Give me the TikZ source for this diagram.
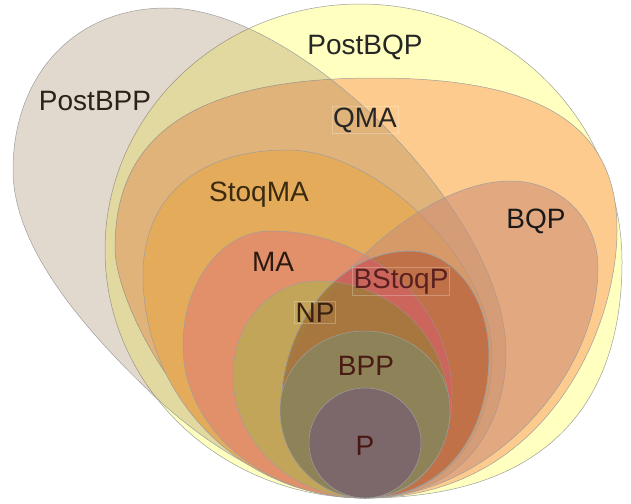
\documentclass[tikz,border=0pt]{standalone}
\usepackage{fontspec}
\setmainfont{Liberation Sans}
\definecolor{edgegray}{RGB}{158,158,158}
\definecolor{cPostBQP}{RGB}{255,255,192}
\definecolor{cQMA}{RGB}{253,203,141}
\definecolor{cPostBPP}{RGB}{148,115,74}
\definecolor{cStoqMA}{RGB}{228,171,90}
\definecolor{cMA}{RGB}{226,144,106}
\definecolor{cNP}{RGB}{194,165,88}
\definecolor{cBQP}{RGB}{201,137,119}
\definecolor{cBStoqP}{RGB}{174,74,39}
\definecolor{cRedTint}{RGB}{215,100,110}
\definecolor{cBrownTint}{RGB}{150,128,57}
\definecolor{cBPP}{RGB}{142,130,89}
\definecolor{cP}{RGB}{124,104,107}
\newcommand\shapeMA{(365,498) .. controls (264.5,498) and (183,429.5) .. (183,345)
  .. controls (183,282.1) and (222,231) .. (270,231)
  .. controls (370.5,231) and (452,304.5) .. (452,395)
  .. controls (452,456.8) and (417.2,498) .. (365,498) -- cycle}
\newcommand\shapeNP{(365,498) .. controls (292.1,498) and (233,442.9) .. (233,375)
  .. controls (233,323.1) and (271.1,281) .. (318,281)
  .. controls (389.8,281) and (448,336.6) .. (448,405)
  .. controls (448,460.8) and (414.8,498) .. (365,498) -- cycle}
\newcommand\shapeBStoqP{(365,498) .. controls (318.6,498) and (281,458.6) .. (281,410)
  .. controls (281,322.5) and (339,251) .. (410,251)
  .. controls (453.6,251) and (489,297.6) .. (489,355)
  .. controls (489,433.7) and (445.6,498) .. (365,498) -- cycle}
\begin{document}
\begin{tikzpicture}[x=1pt,y=-1pt,line width=0.5pt,
  region/.style={draw=edgegray},
  lab/.style={anchor=base,font=\fontsize{28}{30}\selectfont,inner sep=1pt},
  labbox/.style={draw=white,draw opacity=0.25,line width=0.5pt}]
\useasboundingbox (0,0) rectangle (631,503);
% PostBQP
\path[region,fill=cPostBQP] (365,498) .. controls (221.5,498) and (105,386.9) .. (105,250)
  .. controls (105,114.2) and (219.2,4) .. (360,4)
  .. controls (504.6,4) and (622,119.6) .. (622,262)
  .. controls (622,400) and (550,498) .. (365,498) -- cycle;
% QMA
\path[region,fill=cQMA] (365,498) .. controls (212,498) and (115,310.5) .. (115,248)
  .. controls (115,132.4) and (198.2,78) .. (375,78)
  .. controls (541,78) and (617,125) .. (617,230)
  .. controls (617,330) and (545,498) .. (365,498) -- cycle;
% PostBPP
\path[region,fill=cPostBPP,fill opacity=0.27] (365,498) .. controls (285,498) and (203,443) .. (150,392)
  .. controls (80,325) and (13,245) .. (13,170)
  .. controls (13,80) and (70,8) .. (167,8)
  .. controls (300,8) and (506,215) .. (506,352)
  .. controls (506,430) and (460,498) .. (365,498) -- cycle;
% StoqMA
\path[region,fill=cStoqMA] (365,498) .. controls (242.5,498) and (143,398.1) .. (143,275)
  .. controls (143,197.5) and (197.7,150) .. (287,150)
  .. controls (379.3,150) and (492,262.8) .. (492,355)
  .. controls (492,433.7) and (447.6,498) .. (365,498) -- cycle;
% MA
\path[region,fill=cMA] \shapeMA;
% NP
\path[region,fill=cNP] \shapeNP;
% BQP
\path[region,fill=cBQP,fill opacity=0.5] (365,498) .. controls (318.6,498) and (281,458.6) .. (281,410)
  .. controls (281,313.8) and (413.8,181) .. (510,181)
  .. controls (559.7,181) and (598,218) .. (598,268)
  .. controls (598,375) and (490,498) .. (365,498) -- cycle;
% BStoqP
\path[region,fill=cBStoqP,fill opacity=0.5] \shapeBStoqP;
% tints inside BStoqP
\begin{scope}
  \clip \shapeBStoqP;
  \fill[cRedTint,fill opacity=0.5,even odd rule] \shapeMA \shapeNP;
  \begin{scope}
    \clip \shapeNP;
    \fill[cBrownTint,fill opacity=0.5] \shapeBStoqP;
  \end{scope}
  \draw[edgegray,opacity=0.6] \shapeMA;
  \draw[edgegray,opacity=0.6] \shapeNP;
\end{scope}
\draw[edgegray] \shapeBStoqP;
% BPP
\path[region,fill=cBPP] (365,498) .. controls (318,498) and (280,458.6) .. (280,410)
  .. controls (280,366.4) and (318,331) .. (365,331)
  .. controls (412,331) and (450,366.4) .. (450,410)
  .. controls (450,458.6) and (412,498) .. (365,498) -- cycle;
% P
\path[region,fill=cP] (365,443) ellipse [x radius=56,y radius=55];
% labels
\node[lab,text=black!85] (lPostBQP) at (365,55) {PostBQP};
\node[lab,text={rgb,255:red,42;green,34;blue,24}] (lPostBPP) at (95,110) {PostBPP};
\node[lab,labbox,text=black!85] (lQMA) at (365,127) {QMA};
\node[lab,text={rgb,255:red,58;green,42;blue,16}] (lStoqMA) at (259,201) {StoqMA};
\node[lab,text={rgb,255:red,42;green,26;blue,16}] (lMA) at (273,271) {MA};
\node[lab,text=black!90] (lBQP) at (536,228) {BQP};
\node[lab,labbox,text={rgb,255:red,90;green,32;blue,32}] (lBStoqP) at (401,288) {BStoqP};
\node[lab,labbox,text={rgb,255:red,58;green,32;blue,16}] (lNP) at (315,322) {NP};
\node[lab,text={rgb,255:red,74;green,26;blue,20}] (lBPP) at (366,375) {BPP};
\node[lab,text={rgb,255:red,74;green,22;blue,18}] (lP) at (365,455) {P};
\end{tikzpicture}
\end{document}
